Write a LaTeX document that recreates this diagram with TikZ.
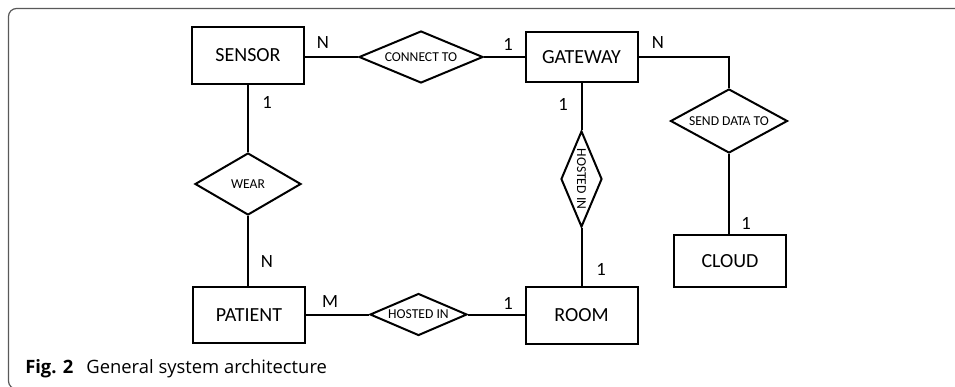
\documentclass[tikz,border=0pt]{standalone}
\usepackage{fontspec}
\setmainfont{Carlito}
\newfontfamily\capfont{Open Sans}
\usetikzlibrary{shapes.geometric}
\begin{document}
\begin{tikzpicture}[x=0.75pt,y=-0.75pt,
  ent/.style={draw,line width=1.5pt,rectangle,minimum width=84pt,inner sep=0pt,font=\fontsize{15}{18}\selectfont},
  rel/.style={draw,line width=1.5pt,diamond,aspect=2,inner sep=0pt,font=\fontsize{10.2}{12}\selectfont},
  card/.style={font=\fontsize{14}{16}\selectfont,inner sep=0pt},
  conn/.style={line width=1.5pt}]
\useasboundingbox (0,0) rectangle (955,386);
\begin{scope}
\clip (0,0) rectangle (955,386);
\draw[black!65,line width=0.9pt,rounded corners=6pt] (960,8.5) -- (8.5,8.5) -- (8.5,389) -- (40,389);
\end{scope}
% entities
\node[ent,minimum height=42.75pt] (sensor) at (248,55.5) {SENSOR};
\node[ent,minimum height=37.5pt] (gateway) at (581.5,57) {GATEWAY};
\node[ent,minimum height=42pt] (patient) at (249,315) {PATIENT};
\node[ent,minimum height=42.75pt] (room) at (581.5,315.5) {ROOM};
\node[ent,minimum height=39pt] (cloud) at (730,261) {CLOUD};
% relations
\node[rel,minimum width=93pt,minimum height=39pt] (connect) at (421,57) {CONNECT TO};
\node[rel,minimum width=87.75pt,minimum height=48pt] (send) at (729,121) {SEND DATA TO};
\node[rel,minimum width=79.5pt,minimum height=46.5pt] (wear) at (248,184) {WEAR};
\node[rel,minimum width=72.75pt,minimum height=31.5pt] (hostedh) at (418.5,314.5) {HOSTED IN};
\node[rel,rotate=-90,minimum width=72pt,minimum height=30.75pt] (hostedv) at (581.5,179) {HOSTED IN};
% connectors
\draw[conn] (sensor.east |- connect.west) -- (connect.west);
\draw[conn] (connect.east) -- (gateway.west |- connect.east);
\draw[conn] (gateway.east) -| (send.north);
\draw[conn] (send.south) -- (send.south |- cloud.north);
\draw[conn] (sensor.south) -- (wear.north);
\draw[conn] (wear.south) -- (wear.south |- patient.north);
\draw[conn] (gateway.south) -- (hostedv);
\draw[conn] (hostedv) -- (room.north);
\draw[conn] (patient.east |- hostedh.west) -- (hostedh.west);
\draw[conn] (hostedh.east) -- (room.west |- hostedh.east);
% cardinalities
\node[card] (c1) at (323,43) {N};
\node[card] (c2) at (508,44) {1};
\node[card] (c3) at (658,43) {N};
\node[card] (c4) at (563,104) {1};
\node[card] (c5) at (267,102) {1};
\node[card] (c6) at (267,262) {N};
\node[card] (c7) at (330,302) {M};
\node[card] (c8) at (508,303) {1};
\node[card] (c9) at (601,269) {1};
\node[card] (c10) at (746,223) {1};
% caption
\node[anchor=base west,inner sep=0pt,font=\capfont\fontsize{13.8}{16}\selectfont] (cap) at (25,373) {\textbf{Fig. 2}\hspace{0.7em}General system architecture};
\end{tikzpicture}
\end{document}
